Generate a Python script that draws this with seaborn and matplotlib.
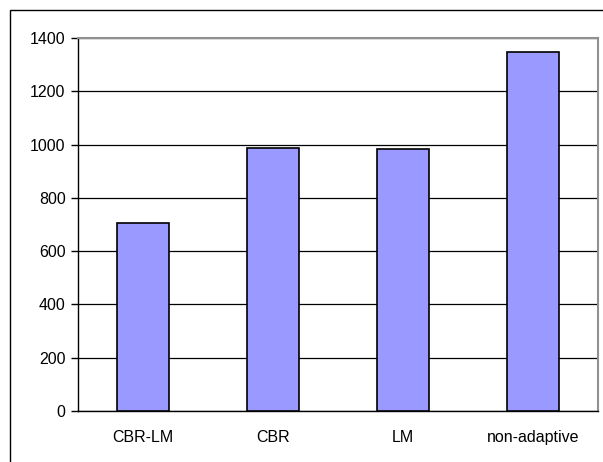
import matplotlib
matplotlib.use("Agg")
import matplotlib.pyplot as plt
import matplotlib.patches as mpatches
import numpy as np
import pandas as pd
import seaborn as sns

categories = ["CBR-LM", "CBR", "LM", "non-adaptive"]
values = [707, 989, 983, 1346]
y_ticks = [0, 200, 400, 600, 800, 1000, 1200, 1400]

sns.set_style("white")
plt.rcParams["font.family"] = ["Liberation Sans", "DejaVu Sans"]

W, H = 603, 462
fig = plt.figure(figsize=(W / 100, H / 100), dpi=100)
ax = fig.add_axes([78 / W, 1 - 411 / H, (598 - 78) / W, (411 - 38) / H])

df = pd.DataFrame({"category": categories, "value": values})
sns.barplot(data=df, x="category", y="value", color="#9999FF", saturation=1,
            edgecolor="black", linewidth=1.2, width=0.4, ax=ax, zorder=3)

ax.set_ylim(0, 1400)
ax.set_xlim(-0.5, len(categories) - 0.5)
ax.set_yticks(y_ticks)
ax.set_yticklabels([str(t) for t in y_ticks], fontsize=11.5, color="black")
ax.yaxis.grid(True, color="black", linewidth=0.9, zorder=0)
ax.set_axisbelow(True)
ax.set_xlabel("")
ax.set_ylabel("")

ax.set_xticks(range(len(categories)))
ax.set_xticklabels(categories, fontsize=11.5, color="black")
ax.tick_params(axis="x", which="major", length=0, pad=14)
ax.set_xticks(np.arange(-0.5, len(categories), 1.0), minor=True)
ax.tick_params(axis="x", which="minor", length=5, width=1, color="black", direction="out")
ax.tick_params(axis="y", length=5, width=1, color="black", direction="out", left=True, pad=4)

for side in ["left", "bottom"]:
    ax.spines[side].set_color("black")
    ax.spines[side].set_linewidth(1)
for side in ["top", "right"]:
    ax.spines[side].set_visible(True)
    ax.spines[side].set_color("#909090")
    ax.spines[side].set_linewidth(1.5)

# chart area border (extends past the right and bottom edges)
fig.patches.append(mpatches.Rectangle((9.5 / W, -0.1), 1.2, 1 - 9.5 / H + 0.1,
                                      transform=fig.transFigure, fill=False,
                                      edgecolor="black", linewidth=1))

fig.savefig("out.png", dpi=100)
